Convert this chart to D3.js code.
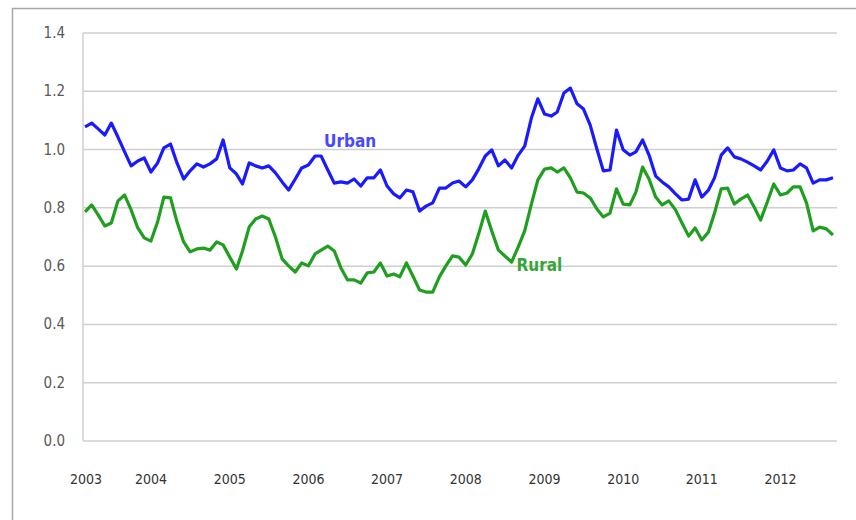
<!DOCTYPE html>
<html>
<head>
<meta charset="utf-8">
<script src="https://cdn.jsdelivr.net/npm/d3@7"></script>
<style>
  html, body { margin: 0; padding: 0; background: #fff; }
  svg { display: block; }
  text { font-family: "Liberation Sans Narrow", "DejaVu Sans Condensed", "Liberation Sans", sans-serif; }
</style>
</head>
<body>
<svg id="chart" width="856" height="520"></svg>
<script>
// ---- Data (monthly, Mar 2003 – Sep 2012) ----
const startMonth = [2003, 2]; // year, 0-based month (March 2003)
const urban = [
  1.078, 1.091, 1.071, 1.050, 1.091, 1.043, 0.992, 0.944, 0.961, 0.971,
  0.923, 0.954, 1.006, 1.019, 0.954, 0.899, 0.927, 0.951, 0.940, 0.951,
  0.968, 1.033, 0.937, 0.916, 0.882, 0.954, 0.944, 0.937, 0.944, 0.920,
  0.889, 0.861, 0.899, 0.937, 0.947, 0.978, 0.978, 0.930, 0.885, 0.889,
  0.885, 0.899, 0.875, 0.903, 0.903, 0.930, 0.875, 0.848, 0.834, 0.861,
  0.855, 0.789, 0.806, 0.817, 0.868, 0.868, 0.885, 0.892, 0.872, 0.896,
  0.933, 0.978, 0.999, 0.944, 0.964, 0.937, 0.981, 1.012, 1.108, 1.174,
  1.122, 1.115, 1.129, 1.194, 1.211, 1.157, 1.139, 1.084, 1.002, 0.927,
  0.930, 1.067, 0.999, 0.981, 0.992, 1.033, 0.981, 0.909, 0.889, 0.872,
  0.848, 0.827, 0.830, 0.896, 0.837, 0.861, 0.903, 0.981, 1.006, 0.975,
  0.968, 0.957, 0.944, 0.930, 0.961, 0.999, 0.937, 0.927, 0.930, 0.951,
  0.937, 0.885, 0.896, 0.896, 0.903
];
const rural = [
  0.786, 0.810, 0.776, 0.738, 0.748, 0.824, 0.844, 0.793, 0.731, 0.697,
  0.686, 0.752, 0.837, 0.834, 0.752, 0.683, 0.649, 0.659, 0.662, 0.655,
  0.683, 0.673, 0.631, 0.590, 0.652, 0.734, 0.762, 0.772, 0.762, 0.700,
  0.625, 0.601, 0.580, 0.611, 0.601, 0.642, 0.655, 0.669, 0.652, 0.594,
  0.553, 0.553, 0.542, 0.577, 0.580, 0.611, 0.566, 0.573, 0.563, 0.611,
  0.566, 0.518, 0.511, 0.511, 0.563, 0.601, 0.635, 0.631, 0.604, 0.642,
  0.710, 0.789, 0.721, 0.655, 0.635, 0.614, 0.666, 0.721, 0.813, 0.896,
  0.933, 0.937, 0.923, 0.937, 0.903, 0.854, 0.851, 0.834, 0.796, 0.769,
  0.782, 0.865, 0.813, 0.810, 0.854, 0.940, 0.899, 0.837, 0.810, 0.824,
  0.793, 0.748, 0.703, 0.731, 0.690, 0.717, 0.782, 0.865, 0.868, 0.813,
  0.830, 0.844, 0.803, 0.758, 0.820, 0.882, 0.844, 0.851, 0.872, 0.872,
  0.817, 0.721, 0.734, 0.728, 0.707
];
const yTicks = [0.0, 0.2, 0.4, 0.6, 0.8, 1.0, 1.2, 1.4];
const xTickYears = [2003, 2004, 2005, 2006, 2007, 2008, 2009, 2010, 2011, 2012];
const seriesNames = ["Urban", "Rural"];

// ---- Layout ----
const svg = d3.select("#chart");
const plotLeft = 85, plotRight = 833, plotTop = 33, plotBottom = 441;
const gridLeft = 83, gridRight = 837;

const dates = urban.map((_, i) => new Date(startMonth[0], startMonth[1] + i, 1));
const x = d3.scaleTime()
  .domain([dates[0], dates[dates.length - 1]])
  .range([plotLeft, plotRight]);
const y = d3.scaleLinear().domain([0, 1.4]).range([plotBottom, plotTop]);

// outer frame
svg.append("rect")
  .attr("x", 12.5).attr("y", 8.5)
  .attr("width", 1000).attr("height", 1000)
  .attr("fill", "none").attr("stroke", "#a6a6a6").attr("stroke-width", 1.5);

// grid lines
svg.append("g").selectAll("line").data(yTicks).join("line")
  .attr("x1", gridLeft).attr("x2", gridRight)
  .attr("y1", d => y(d)).attr("y2", d => y(d))
  .attr("stroke", "#cfcfcf").attr("stroke-width", 1.5);

// left axis line
svg.append("line")
  .attr("x1", gridLeft).attr("x2", gridLeft)
  .attr("y1", y(1.4)).attr("y2", y(0))
  .attr("stroke", "#cfcfcf").attr("stroke-width", 1.5);

// y tick labels
svg.append("g").selectAll("text").data(yTicks).join("text")
  .attr("x", 65).attr("y", d => y(d) + 5)
  .attr("text-anchor", "end")
  .attr("font-size", 15).attr("fill", "#595959")
  .text(d => d.toFixed(1));

// x tick labels (first one sits at the start of the data)
svg.append("g").selectAll("text").data(xTickYears).join("text")
  .attr("x", d => {
    const t = new Date(d, 0, 1);
    return t < dates[0] ? x(dates[0]) + 1 : x(t);
  })
  .attr("y", 484)
  .attr("text-anchor", "middle")
  .attr("font-size", 14).attr("fill", "#333333")
  .text(d => d);

// lines
const line = d3.line()
  .x((d, i) => x(dates[i]))
  .y(d => y(d))
  .curve(d3.curveLinear);

svg.append("path").datum(rural)
  .attr("d", line).attr("fill", "none")
  .attr("stroke", "#1f9e1f").attr("stroke-width", 3.2)
  .attr("stroke-linejoin", "round");

svg.append("path").datum(urban)
  .attr("d", line).attr("fill", "none")
  .attr("stroke", "#1a1aff").attr("stroke-width", 3.2)
  .attr("stroke-linejoin", "round");

// series labels
svg.append("text")
  .attr("x", x(new Date(2006, 2, 1)) + 29).attr("y", y(1.01))
  .attr("text-anchor", "middle")
  .attr("font-size", 17).attr("font-weight", "bold").attr("fill", "#4848ff")
  .text(seriesNames[0]);

svg.append("text")
  .attr("x", x(new Date(2008, 7, 1)) + 5).attr("y", y(0.585))
  .attr("text-anchor", "start")
  .attr("font-size", 17).attr("font-weight", "bold").attr("fill", "#35a535")
  .text(seriesNames[1]);
</script>
</body>
</html>
